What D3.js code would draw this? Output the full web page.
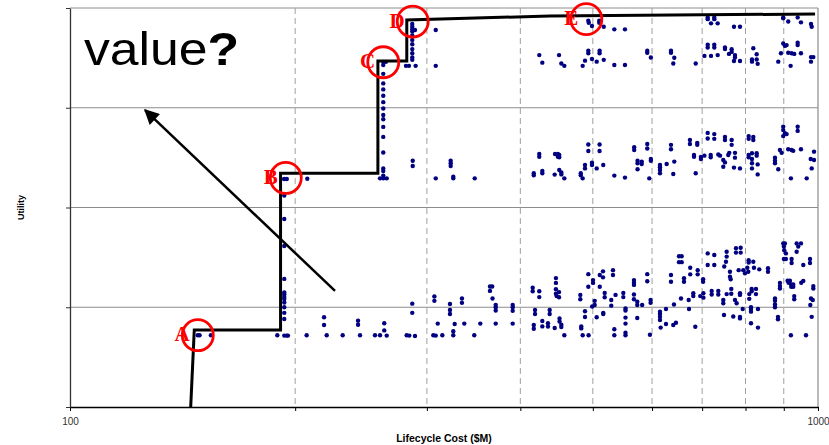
<!DOCTYPE html>
<html><head><meta charset="utf-8">
<script src="https://cdn.jsdelivr.net/npm/d3@7"></script>
<style>
html,body{margin:0;padding:0;background:#fff;}
svg{display:block;font-family:"Liberation Sans",Arial,sans-serif;}
</style></head>
<body><svg id="chart" width="829" height="445"></svg>
<script>
// ---------- data ----------
const xTickValues = [100,200,300,400,500,600,700,800,900,1000];
const xTickLabels = {100:"100",1000:"1000"};
const yTickValues = [0,0.25,0.5,0.75,1];

// Pareto front (step line)
const frontCost    = [145, 146.6, 191.2, 191.2, 258, 258, 282, 282, 438, 991];
const frontUtility = [0, 0.193, 0.193, 0.586, 0.586, 0.867, 0.867, 0.970, 0.980, 0.985];

// Marked designs
const markedNames   = ["A","B","C","D","E"];
const markedCost    = [148.2, 194.3, 262.3, 287.2, 490.1];
const markedUtility = [0.180, 0.574, 0.864, 0.966, 0.972];

// Arrow (value direction)
const arrowFrom = [226.1, 0.291];
const arrowTo   = [126.0, 0.744];

// Design points [cost $M, utility]
const designsLowUtility = [
[148.2,0.180],[149.0,0.180],[154.3,0.180],
[193.4,0.471],[193.4,0.4035],[193.4,0.321],[193.4,0.287],[193.4,0.282],[193.4,0.276],[193.4,0.2705],[193.4,0.262],[193.4,0.250],[193.4,0.236],[193.4,0.2205],[193.4,0.179],[194.9,0.179],[195.6,0.179],[189.3,0.180],
[207.2,0.180],[220.4,0.180],[231.5,0.180],[244.2,0.180],[255.7,0.180],[259.7,0.180],[265.1,0.179],[281.9,0.180],[284.2,0.179],[289.2,0.178],[306.0,0.180],[308.3,0.179],[314.6,0.180],
[218.6,0.225],[218.6,0.2055],[242.7,0.216],[242.7,0.206],[263.1,0.210],[263.1,0.192],[286.8,0.259],[286.8,0.236],[307.0,0.277],[307.0,0.266],[310.2,0.209],
[322.1,0.258],[322.1,0.243],[322.1,0.233],[326.8,0.208],[325.4,0.190],[325.4,0.180],[334.2,0.272],[334.2,0.261],[336.6,0.209],[347.1,0.180],[353.6,0.209],
[364.3,0.302],[366.8,0.302],[364.3,0.291],[367.2,0.272],[370.8,0.2555],[370.8,0.250],[370.8,0.242],[370.8,0.209],
[390.7,0.2555],[390.7,0.250],[390.7,0.241],[390.7,0.209],[415.5,0.299],[415.5,0.290],[424.0,0.290],[424.0,0.2755],[418.5,0.243],[418.5,0.233],
[416.9,0.2055],[416.9,0.196],[428.0,0.2155],[428.0,0.202],[435.5,0.210],[435.5,0.2015],[437.8,0.243],[437.8,0.233],[444.6,0.198],
[446.3,0.323],[446.3,0.311],[446.3,0.295],[446.3,0.284],[447.3,0.278],[450.6,0.288],[450.6,0.275],[451.3,0.222],[451.3,0.214],[453.8,0.206],[453.8,0.2005],[458.0,0.180],
[481.1,0.281],[481.1,0.270],[482.5,0.202],[482.5,0.197],[484.6,0.180],[488.1,0.240],[488.1,0.2255],[493.1,0.333],[493.1,0.3015],[493.5,0.180],
[499.0,0.252],[500.3,0.318],[500.3,0.311],[502.9,0.266],[502.9,0.2555],[506.0,0.225],[510.8,0.331],[510.8,0.3015],[515.9,0.340],[515.9,0.325],
[516.3,0.236],[516.3,0.233],[518.6,0.286],[518.6,0.275],[529.2,0.268],[529.2,0.254],[532.0,0.343],[532.0,0.331],[534.2,0.195],[534.2,0.180],[536.2,0.281],
[549.2,0.286],[549.2,0.2755],[552.9,0.247],[552.9,0.242],[552.9,0.224],[552.9,0.209],[552.9,0.186],[552.9,0.180],
[567.5,0.318],[567.5,0.3115],[567.5,0.306],[567.5,0.282],[567.5,0.270],[573.3,0.264],[573.3,0.2555],[573.3,0.223],[582.0,0.2555],
[591.2,0.333],[591.2,0.315],[597.3,0.268],[597.3,0.261],[596.1,0.181],[614.8,0.239],[614.8,0.233],[614.8,0.226],[614.8,0.218],[616.1,0.199],
[626.3,0.2455],[626.3,0.208],[636.0,0.331],[636.0,0.314],[641.9,0.257],[640.5,0.2055],[645.8,0.211],
[651.9,0.378],[657.3,0.378],[651.9,0.363],[657.3,0.363],[655.9,0.272],[662.0,0.3225],[662.0,0.314],[671.6,0.268],[672.3,0.2455],
[674.8,0.349],[674.8,0.3325],[681.2,0.285],[681.2,0.278],[685.4,0.201],[690.5,0.343],[690.5,0.3325],[696.0,0.278],
[702.1,0.320],[702.1,0.314],[702.7,0.285],[702.7,0.274],[712.1,0.385],[712.1,0.356],[720.9,0.291],[720.9,0.282],[726.7,0.381],[726.7,0.356],
[735.7,0.291],[735.7,0.282],[747.1,0.268],[747.1,0.260],[748.7,0.2305],[749.3,0.352],[754.9,0.389],[754.9,0.377],[753.3,0.364],[754.9,0.283],
[762.6,0.339],[762.6,0.3265],[764.3,0.320],[765.7,0.296],[765.7,0.284],[770.4,0.227],[774.5,0.268],[778.5,0.260],
[776.9,0.398],[788.2,0.399],[776.9,0.387],[788.2,0.387],[783.3,0.343],[786.5,0.285],[786.5,0.281],[786.5,0.226],[786.5,0.222],
[794.5,0.343],[798.7,0.335],[793.1,0.2455],[804.4,0.349],[806.8,0.339],[807.8,0.368],[807.8,0.362],[809.3,0.283],[809.3,0.271],
[813.6,0.250],[813.6,0.2455],[813.6,0.239],[815.3,0.296],[815.3,0.290],[819.4,0.364],[821.1,0.349],[813.6,0.210],
[826.2,0.296],[826.2,0.283],[831.3,0.2455],[831.3,0.199],[834.6,0.345],[857.3,0.348],[857.3,0.339],
[876.0,0.272],[876.0,0.266],[876.0,0.257],[876.0,0.250],[884.1,0.226],[884.1,0.220],[889.4,0.311],[889.4,0.303],[889.4,0.297],
[898.5,0.410],[903.2,0.410],[900.4,0.402],[901.3,0.393],[905.9,0.385],[900.4,0.371],[905.9,0.371],
[910.7,0.3165],[917.2,0.3165],[913.5,0.3115],[920.9,0.307],[920.9,0.3015],[926.6,0.307],[926.6,0.3015],[929.5,0.278],[929.5,0.270],
[922.0,0.371],[922.0,0.361],[936.4,0.410],[948.9,0.410],[941.0,0.402],[936.4,0.389],[920.0,0.180],
[949.8,0.3115],[955.7,0.316],[955.7,0.356],[975.7,0.371],[975.7,0.361],[978.7,0.272],[983.9,0.268],[976.6,0.2555],
[985.7,0.303],[985.7,0.297],[980.8,0.226],[963.7,0.180]
];

const designsMidUtility = [
[193.4,0.530],[193.3,0.5715],[194.9,0.5715],[207.6,0.572],
[262.3,0.638],[262.3,0.598],[262.3,0.5915],[262.3,0.580],[262.3,0.573],[259.7,0.573],[265.1,0.573],
[287.2,0.617],[287.2,0.604],[308.3,0.573],[322.8,0.617],[322.8,0.611],[322.8,0.604],[325.4,0.577],[325.4,0.573],[347.6,0.573],
[424.0,0.634],[424.0,0.627],[416.9,0.586],[416.9,0.581],[428.0,0.5915],[428.0,0.586],
[445.1,0.634],[449.0,0.634],[450.9,0.6315],[449.0,0.627],[450.9,0.626],[444.6,0.5825],[450.9,0.594],[453.8,0.588],[453.8,0.583],[458.0,0.573],
[481.8,0.586],[481.8,0.581],[484.6,0.573],[488.1,0.6065],[488.1,0.598],[493.1,0.658],[493.1,0.6415],[498.7,0.612],[498.7,0.6065],
[506.0,0.598],[510.5,0.658],[510.5,0.6415],[516.3,0.6065],
[534.2,0.580],[552.0,0.575],[567.9,0.651],[567.9,0.644],[573.8,0.617],[573.8,0.611],[581.2,0.615],[581.2,0.609],[573.8,0.596],
[591.2,0.659],[591.2,0.648],[597.8,0.6215],[597.8,0.617],[594.9,0.573],[614.8,0.6065],[614.8,0.601],[614.8,0.594],[614.8,0.586],
[627.6,0.609],[636.0,0.657],[636.0,0.646],[642.5,0.615],[640.5,0.584],
[674.2,0.669],[674.2,0.659],[689.6,0.662],[689.6,0.657],[682.7,0.6315],[682.7,0.627],[686.3,0.586],[697.4,0.627],[697.4,0.6215],[704.9,0.630],
[712.1,0.687],[726.7,0.684],[712.1,0.673],[726.7,0.672],[718.7,0.6315],[718.7,0.626],[735.7,0.633],[739.6,0.630],
[751.0,0.677],[751.0,0.669],[747.1,0.619],[751.0,0.613],[747.1,0.602],[758.6,0.6315],[761.0,0.637],[766.6,0.669],[766.6,0.657],
[774.5,0.637],[774.5,0.625],[772.1,0.600],[786.5,0.598],
[807.8,0.679],[807.8,0.672],[819.4,0.677],[819.4,0.669],[807.8,0.6315],[807.8,0.626],[816.1,0.636],[828.0,0.636],[816.1,0.6215],[828.0,0.630],
[816.1,0.611],[830.5,0.608],[816.1,0.598],[830.5,0.583],[876.0,0.625],[876.0,0.617],[876.0,0.611],[884.9,0.596],
[898.5,0.7025],[898.5,0.694],[903.2,0.686],[898.5,0.679],[907.9,0.684],[939.3,0.7025],[939.3,0.692],
[889.4,0.644],[894.1,0.637],[912.4,0.646],[922.0,0.644],[926.6,0.642],[948.9,0.646],[920.0,0.573],[965.8,0.573],
[987.8,0.640],[987.8,0.619],[977.8,0.6215],[980.8,0.598]
];

const designsHighUtility = [
[262.3,0.865],[264.5,0.865],[262.3,0.857],[262.3,0.835],[262.3,0.811],[262.3,0.796],[262.3,0.780],[262.3,0.764],[262.3,0.748],
[262.3,0.732],[262.3,0.721],[262.3,0.702],[262.3,0.677],
[286.8,0.960],[286.8,0.953],[286.8,0.947],[286.8,0.941],[286.8,0.931],[286.8,0.920],[286.8,0.909],[286.8,0.897],[286.8,0.8865],[286.8,0.876],[286.8,0.870],
[289.2,0.945],[281.3,0.855],[283.9,0.855],[289.8,0.855],[308.3,0.945],[308.3,0.855],
[424.0,0.882],[428.0,0.863],[450.6,0.882],[453.8,0.861],[458.0,0.855],[484.6,0.855],[488.1,0.868],[493.1,0.893],[493.1,0.8865],
[498.7,0.872],[506.0,0.8655],[510.5,0.893],[510.5,0.8865],[517.1,0.870],
[493.1,0.968],[493.8,0.963],[498.7,0.955],[510.0,0.968],[510.0,0.963],[517.1,0.953],
[534.2,0.9465],[552.0,0.9465],[534.2,0.857],[552.0,0.857],[591.2,0.893],[591.2,0.888],[597.8,0.876],
[636.0,0.893],[636.0,0.888],[642.5,0.8755],[640.5,0.861],[686.3,0.861],
[712.1,0.9765],[726.7,0.9765],[712.1,0.972],[726.7,0.972],[719.4,0.9615],[734.3,0.9615],[772.1,0.953],[786.5,0.953],
[712.1,0.908],[712.1,0.901],[726.7,0.908],[726.7,0.901],[704.9,0.880],[719.4,0.880],[734.3,0.882],
[751.0,0.901],[751.0,0.897],[766.6,0.8965],[766.6,0.890],[760.3,0.885],[774.5,0.882],[774.5,0.876],[772.1,0.867],[786.5,0.867],
[819.4,0.899],[828.0,0.884],[828.0,0.871],[816.1,0.871],[816.1,0.8655],[830.5,0.860],
[898.5,0.9765],[898.5,0.974],[912.4,0.966],[939.3,0.9765],[948.9,0.964],[978.7,0.960],[980.8,0.953],
[898.5,0.911],[903.2,0.905],[907.9,0.907],[892.2,0.8865],[912.4,0.888],[922.0,0.8865],[929.5,0.885],
[939.3,0.913],[939.3,0.907],[948.9,0.8865],[884.9,0.8655],[919.2,0.855],[978.7,0.877],[985.7,0.877],[978.7,0.8655]
];

// ---------- drawing ----------
const svg = d3.select("#chart");
const L = 70, R = 818, T = 8, B = 407;
const x = d3.scaleLog().domain([100,1000]).range([L,R]);
const y = d3.scaleLinear().domain([0,1]).range([B,T]);

// horizontal gridlines
svg.append("g").selectAll("line").data(yTickValues.filter(d=>d>0)).join("line")
  .attr("x1",L).attr("x2",R).attr("y1",d=>y(d)).attr("y2",d=>y(d))
  .attr("stroke","#8c8c8c").attr("stroke-width",1);
// vertical dashed gridlines
svg.append("g").selectAll("line").data(xTickValues.filter(d=>d>100 && d<1000)).join("line")
  .attr("x1",d=>x(d)).attr("x2",d=>x(d)).attr("y1",T).attr("y2",B)
  .attr("stroke","#a0a0a0").attr("stroke-width",1).attr("stroke-dasharray","6,4");
// right border
svg.append("line").attr("x1",x(1000)).attr("x2",x(1000)).attr("y1",T).attr("y2",B)
  .attr("stroke","#8c8c8c").attr("stroke-width",1.2);

// axes
const xAxis = d3.axisBottom(x).tickValues(xTickValues).tickSize(4).tickSizeOuter(0).tickPadding(7)
  .tickFormat(d => xTickLabels[d] || "");
const gx = svg.append("g").attr("transform",`translate(0,${B})`).call(xAxis);
gx.select(".domain").attr("stroke","#000").attr("stroke-width",1.5);
gx.selectAll(".tick line").attr("stroke","#000").attr("stroke-width",1);
gx.selectAll(".tick text").attr("fill","#333").style("font-size","10px").style("font-family","'Liberation Sans',Arial,sans-serif");

const yAxis = d3.axisLeft(y).tickValues(yTickValues).tickSize(4).tickSizeOuter(0).tickFormat("");
const gy = svg.append("g").attr("transform",`translate(${L},0)`).call(yAxis);
gy.select(".domain").attr("stroke","#333").attr("stroke-width",1.3);
gy.selectAll(".tick line").attr("stroke","#333");

// design points
const allDesigns = designsLowUtility.concat(designsMidUtility, designsHighUtility);
svg.append("g").selectAll("circle").data(allDesigns).join("circle")
  .attr("cx",d=>x(d[0])).attr("cy",d=>y(d[1])).attr("r",2.2).attr("fill","#000080");

// front step line
const front = frontCost.map((c,i)=>[c,frontUtility[i]]);
svg.append("path").datum(front)
  .attr("d", d3.line().x(d=>x(d[0])).y(d=>y(d[1])))
  .attr("fill","none").attr("stroke","#000").attr("stroke-width",3).attr("stroke-linejoin","miter");

// arrow
const defs = svg.append("defs");
defs.append("marker").attr("id","ah").attr("viewBox","0 0 10 10").attr("refX",9).attr("refY",5)
  .attr("markerWidth",6.5).attr("markerHeight",6).attr("markerUnits","strokeWidth").attr("orient","auto")
  .append("path").attr("d","M0,0 L10,5 L0,10 z").attr("fill","#000");
svg.append("line")
  .attr("x1",x(arrowFrom[0])).attr("y1",y(arrowFrom[1]))
  .attr("x2",x(arrowTo[0])).attr("y2",y(arrowTo[1]))
  .attr("stroke","#000").attr("stroke-width",2.5).attr("marker-end","url(#ah)");

// marked designs
const marks = markedNames.map((n,i)=>({n, c:markedCost[i], u:markedUtility[i]}));
const gm = svg.append("g");
gm.selectAll("text").data(marks).join("text")
  .attr("x",d=>x(d.c)-8).attr("y",d=>y(d.u)+6)
  .attr("text-anchor","end")
  .style("font-family","'Liberation Serif','Times New Roman',serif")
  .style("font-weight","bold").style("font-size","21px").attr("fill","#ff0000")
  .text(d=>d.n);
gm.selectAll("circle").data(marks).join("circle")
  .attr("cx",d=>x(d.c)).attr("cy",d=>y(d.u)).attr("r",15.5)
  .attr("fill","none").attr("stroke","#ff0000").attr("stroke-width",2.8);

// "value?" text
const vt = svg.append("text").attr("transform","translate(84,65) scale(1.1,1)")
  .style("font-family","'Liberation Sans',Arial,sans-serif").style("font-size","47px").attr("fill","#000");
vt.append("tspan").text("value");
vt.append("tspan").style("font-weight","bold").text("?");

// axis titles
svg.append("text").attr("x",(L+R)/2).attr("y",442).attr("text-anchor","middle")
  .style("font-size","10.5px").style("font-weight","bold").attr("fill","#000").text("Lifecycle Cost ($M)");
svg.append("text").attr("transform",`translate(24,${(T+B)/2}) rotate(-90)`).attr("text-anchor","middle")
  .style("font-size","9px").style("font-weight","bold").attr("fill","#000").text("Utility");
</script></body></html>
